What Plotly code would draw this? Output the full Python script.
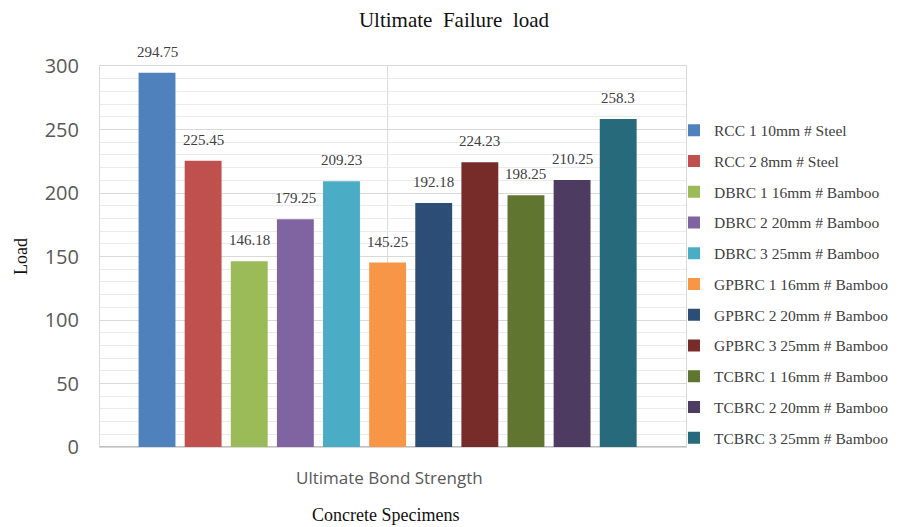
import plotly.graph_objects as go

specimens = [
    "RCC 1 10mm # Steel", "RCC 2 8mm # Steel",
    "DBRC 1 16mm # Bamboo", "DBRC 2 20mm # Bamboo", "DBRC 3 25mm # Bamboo",
    "GPBRC 1 16mm # Bamboo", "GPBRC 2 20mm # Bamboo", "GPBRC 3 25mm # Bamboo",
    "TCBRC 1 16mm # Bamboo", "TCBRC 2 20mm # Bamboo", "TCBRC 3 25mm # Bamboo",
]
loads = [294.75, 225.45, 146.18, 179.25, 209.23, 145.25, 192.18, 224.23, 198.25, 210.25, 258.3]
labels = ["294.75", "225.45", "146.18", "179.25", "209.23", "145.25",
          "192.18", "224.23", "198.25", "210.25", "258.3"]
colors = ["#4F81BD", "#C0504D", "#9BBB59", "#8064A2", "#4BACC6", "#F79646",
          "#2C4D75", "#772C2A", "#5F7530", "#4D3B62", "#276A7C"]
y_ticks = [0, 50, 100, 150, 200, 250, 300]

serif = "Liberation Serif"
sans = "Open Sans"

fig = go.Figure()
for i, (name, val, lab, col) in enumerate(zip(specimens, loads, labels, colors)):
    fig.add_trace(go.Bar(
        x=[i], y=[val], name=name, width=0.8,
        marker=dict(color=col, line=dict(width=0)),
        legendgroup=name,
    ))
    # value label floating above each bar
    fig.add_annotation(x=i, y=val, text=lab, showarrow=False,
                       yanchor="middle", yshift=21,
                       font=dict(family=serif, size=15, color="#404040"))

fig.update_layout(
    width=908, height=527,
    margin=dict(l=100, r=222, t=66, b=80),
    paper_bgcolor="white", plot_bgcolor="white",
    title=dict(text="Ultimate  Failure  load", x=0.5, xanchor="center",
               y=0.962, yanchor="middle",
               font=dict(family=serif, size=21, color="#111111")),
    bargap=0.2,
    showlegend=True,
    legend=dict(x=0.9795, xanchor="left", y=0.875, yanchor="top",
                bgcolor="rgba(0,0,0,0)",
                font=dict(family=serif, size=15.5, color="#404040"),
                tracegroupgap=7.6, itemwidth=30),
    xaxis=dict(range=[-1.236, 11.47], showticklabels=False, showgrid=False,
               zeroline=False, showline=True, linecolor="#D9D9D9", mirror=True,
               ticks=""),
    yaxis=dict(range=[0, 300], tickvals=y_ticks,
               tickfont=dict(family=sans, size=20, color="#595959"),
               showgrid=True, gridcolor="#D9D9D9", gridwidth=1,
               minor=dict(dtick=10, showgrid=True, gridcolor="#EBEBEB", gridwidth=1),
               zeroline=True, zerolinecolor="#BFBFBF", zerolinewidth=1.5,
               showline=True, linecolor="#D9D9D9", mirror=True,
               ticks="", ticklabelstandoff=16,
               title=dict(text="Load", font=dict(family=serif, size=18, color="#111111"),
                          standoff=12)),
)

# vertical divider across the plot area
fig.add_shape(type="line", xref="x", yref="paper", x0=5.0, x1=5.0, y0=0, y1=1,
              line=dict(color="#D9D9D9", width=1), layer="below")

fig.add_annotation(text="Ultimate Bond Strength", xref="x", yref="paper",
                   x=5.05, y=-0.081, yanchor="middle", showarrow=False,
                   font=dict(family=sans, size=17, color="#595959"))
fig.add_annotation(text="Concrete Specimens", xref="x", yref="paper",
                   x=4.95, y=-0.178, yanchor="middle", showarrow=False,
                   font=dict(family=serif, size=18, color="#111111"))

fig.write_html("out.html")
